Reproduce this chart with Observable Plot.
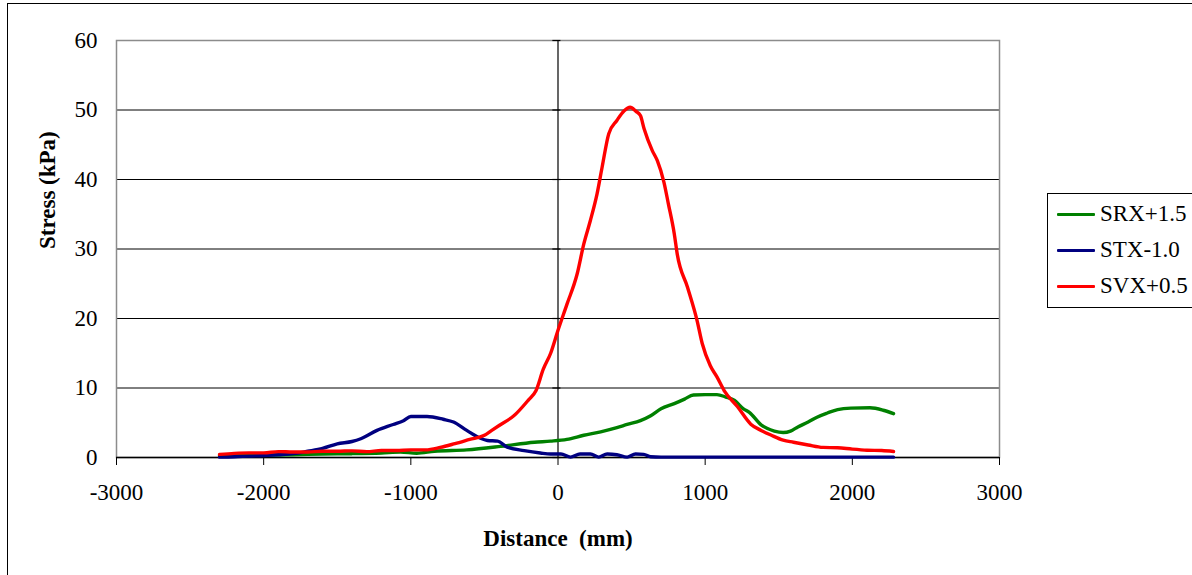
<!DOCTYPE html>
<html>
<head>
<meta charset="utf-8">
<script src="https://cdn.jsdelivr.net/npm/d3@7"></script>
<script src="https://cdn.jsdelivr.net/npm/@observablehq/plot@0.6"></script>
<style>
  html, body { margin: 0; padding: 0; background: #fff; overflow: hidden; }
  #wrap { position: relative; width: 1192px; height: 575px; overflow: hidden; background: #fff;
          font-family: "Liberation Serif", "Times New Roman", serif; }
  #outer { position: absolute; left: 7px; top: 3px; width: 1220px; height: 620px; border: 1px solid #000; box-sizing: border-box; }
  #chart { position: absolute; left: 0; top: 0; }
  #legend { position: absolute; left: 1047px; top: 193px; width: 170px; height: 115px;
            border: 1px solid #000; box-sizing: border-box; padding: 2px 0 0 9px; background: #fff; }
  .row { height: 36px; display: flex; align-items: center; font-size: 23px; color: #000; }
  .sw { width: 38px; height: 3px; margin-right: 5px; border-radius: 1px; }
</style>
</head>
<body>
<div id="wrap">
  <div id="outer"></div>
  <div id="chart"></div>
  <div id="legend"></div>
</div>
<script>
// ---- data ----
const seriesNames = ["SRX+1.5", "STX-1.0", "SVX+0.5"];
const seriesColors = ["#008000", "#000080", "#ff0000"];

const srxDist = [-2300,-2000,-1800,-1600,-1400,-1200,-1070,-960,-840,-620,-390,-160,-50,60,175,290,400,470,560,630,700,790,860,920,1000,1080,1140,1200,1260,1300,1380,1470,1530,1580,1630,1700,1760,1830,1900,1990,2120,2210,2280];
const srxStress = [0.3,0.35,0.4,0.5,0.55,0.65,0.77,0.62,0.9,1.1,1.6,2.2,2.35,2.6,3.2,3.7,4.3,4.75,5.3,6.0,7.0,7.75,8.4,9.0,9.05,9.05,8.7,8.2,7.0,6.5,4.7,3.8,3.6,3.8,4.4,5.1,5.8,6.4,6.9,7.1,7.15,6.8,6.3];

const stxDist = [-2300,-2200,-2100,-2000,-1900,-1800,-1700,-1600,-1500,-1400,-1340,-1230,-1120,-1050,-1000,-890,-780,-710,-620,-530,-480,-410,-345,-230,-120,-50,20,85,150,220,277,334,400,470,527,583,629,700,1000,1500,2000,2280];
const stxStress = [0.05,0.1,0.2,0.28,0.4,0.55,0.9,1.3,1.97,2.3,2.7,3.9,4.75,5.3,5.9,5.9,5.5,5.1,3.9,2.8,2.45,2.35,1.5,1.0,0.65,0.5,0.5,0.05,0.5,0.5,0.05,0.5,0.4,0.05,0.5,0.45,0.1,0.05,0.05,0.05,0.05,0.05];

const svxDist = [-2300,-2200,-2100,-2000,-1900,-1800,-1700,-1600,-1500,-1400,-1300,-1200,-1100,-1000,-900,-800,-700,-600,-500,-450,-400,-300,-200,-150,-100,-50,0,60,130,175,220,265,300,345,400,450,490,530,560,585,640,675,720,750,790,810,880,945,980,1035,1080,1130,1220,1310,1380,1450,1530,1600,1700,1800,1900,2000,2100,2200,2280];
const svxStress = [0.45,0.6,0.67,0.67,0.85,0.8,0.8,0.9,0.9,0.95,0.85,1.0,1.0,1.1,1.1,1.45,2.0,2.6,3.2,3.9,4.6,6.0,8.3,9.6,12.7,15.0,18.3,22.0,26.4,30.7,34.1,37.9,41.8,46.6,48.5,49.9,50.4,49.8,49.2,47.3,44.2,42.7,39.6,36.5,32.2,29.3,24.5,19.7,16.4,13.2,11.6,9.6,7.3,4.8,3.9,3.2,2.5,2.2,1.8,1.45,1.4,1.2,1.05,1.0,0.86];

const xTicks = [-3000,-2000,-1000,0,1000,2000,3000];
const yTicks = [0,10,20,30,40,50,60];
const gridValues = [10,20,30,40,50];
const xTitle = "Distance  (mm)";
const yTitle = "Stress (kPa)";

const toRows = (dist, vals) => dist.map((d, i) => ({x: d, y: vals[i]}));
const srx = toRows(srxDist, srxStress);
const stx = toRows(stxDist, stxStress);
const svx = toRows(svxDist, svxStress);

const font = '"Liberation Serif", "Times New Roman", serif';

const plot = Plot.plot({
  width: 1192,
  height: 575,
  marginLeft: 116,
  marginRight: 193,
  marginTop: 40,
  marginBottom: 118,
  style: {fontFamily: font, fontSize: "23px", color: "#000", background: "transparent", overflow: "visible"},
  x: {domain: [-3000, 3000]},
  y: {domain: [0, 60]},
  marks: [
    Plot.ruleY(gridValues, {stroke: "#000", strokeWidth: 1}),
    Plot.frame({stroke: "#8c8c8c", strokeWidth: 1.5}),
    Plot.ruleY([0], {stroke: "#000", strokeWidth: 1.5}),
    Plot.ruleX([0], {stroke: "#000", strokeWidth: 1.2}),
    Plot.ruleY(yTicks, {x1: -35, x2: 20, stroke: "#000", strokeWidth: 1.2}),
    Plot.axisX({ticks: xTicks, tickSize: 8, tickPadding: 18, tickFormat: d => String(d), label: null, stroke: "#000"}),
    Plot.axisY({ticks: yTicks, tickSize: 0, tickPadding: 19, tickFormat: d => String(d), label: null}),
    Plot.text([yTitle], {frameAnchor: "left", rotate: -90, dx: -69, fontWeight: "bold", fontSize: 23}),
    Plot.text([xTitle], {frameAnchor: "bottom", dy: 88, fontWeight: "bold", fontSize: 23}),
    Plot.line(srx, {x: "x", y: "y", stroke: seriesColors[0], strokeWidth: 3.4, curve: "monotone-x"}),
    Plot.line(stx, {x: "x", y: "y", stroke: seriesColors[1], strokeWidth: 3.4, curve: "monotone-x"}),
    Plot.line(svx, {x: "x", y: "y", stroke: seriesColors[2], strokeWidth: 3.4, curve: "monotone-x"})
  ]
});
document.getElementById("chart").appendChild(plot);

const legend = document.getElementById("legend");
seriesNames.forEach((name, i) => {
  const row = document.createElement("div");
  row.className = "row";
  const sw = document.createElement("div");
  sw.className = "sw";
  sw.style.background = seriesColors[i];
  const label = document.createElement("span");
  label.textContent = name;
  row.appendChild(sw);
  row.appendChild(label);
  legend.appendChild(row);
});
</script>
</body>
</html>
